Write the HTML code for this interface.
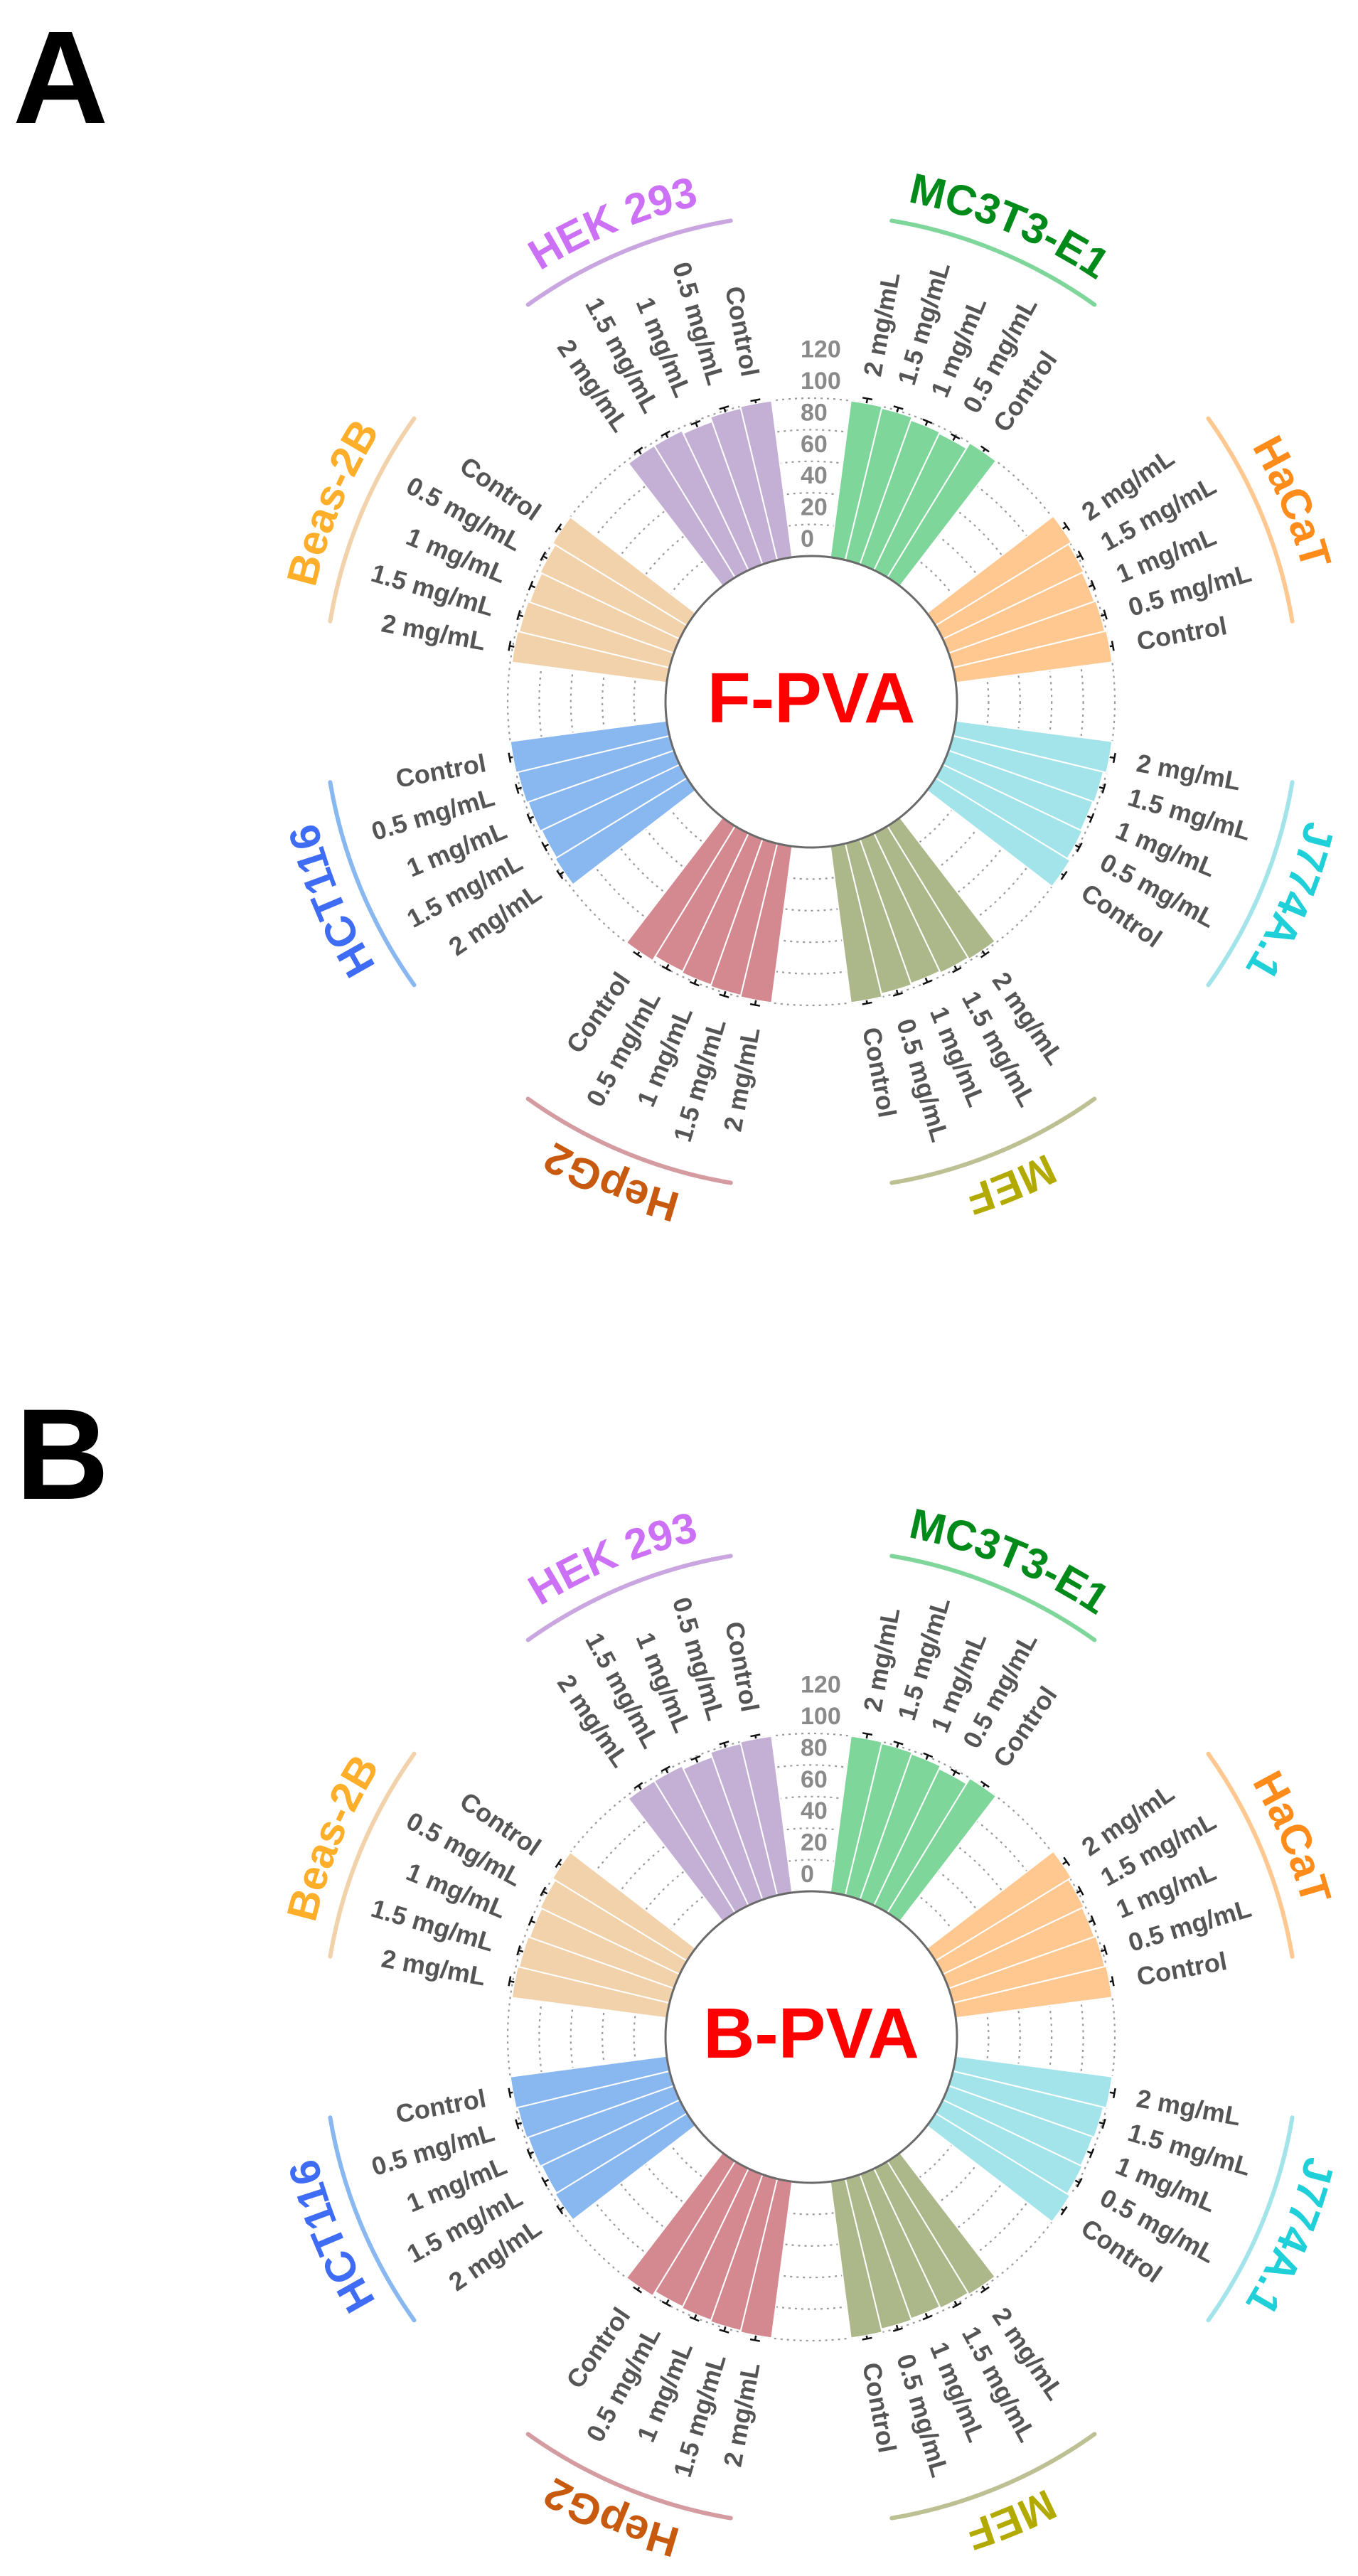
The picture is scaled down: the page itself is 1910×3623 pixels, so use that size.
<!DOCTYPE html>
<html><head><meta charset="utf-8">
<style>
html,body{margin:0;padding:0;background:#fff;}
svg{display:block;font-family:"Liberation Sans",Arial,sans-serif;}
</style></head>
<body>
<svg id="fig" width="1910" height="3623" viewBox="0 0 1910 3623" xmlns="http://www.w3.org/2000/svg">
<text x="18" y="173" font-size="186" font-weight="bold" fill="#000">A</text>
<text x="22" y="2108" font-size="182" font-weight="bold" fill="#000">B</text>
</svg>
<script>
const groups = ["MC3T3-E1","HaCaT","J774A.1","MEF","HepG2","HCT116","Beas-2B","HEK 293"];
const doses = ["2 mg/mL","1.5 mg/mL","1 mg/mL","0.5 mg/mL","Control"];
const ticks = [0,20,40,60,80,100,120];
const gridVals = [20,40,60,80,100];
const valuesA = [
  [100,99,97,96,100],
  [101,99,98,99,100],
  [100,98,97,98,100],
  [99,98,97,98,100],
  [100,99,98,97,100],
  [98,97,98,99,100],
  [99,98,97,98,100],
  [98,98,96,99,100]
];
const errorsA = [
  [3,3,3,3,2],[3,3,3,3,2],[3,3,3,3,2],[3,3,3,3,2],
  [3,3,3,3,2],[3,3,3,3,2],[3,3,3,3,2],[3,3,3,3,2]
];
const valuesB = [
  [100,99,98,96,100],
  [101,99,98,99,100],
  [100,98,97,98,100],
  [99,98,97,98,100],
  [100,99,98,97,100],
  [98,97,98,99,100],
  [99,98,97,98,100],
  [98,98,96,99,100]
];
const errorsB = [
  [3,3,3,3,2],[3,3,3,3,2],[3,3,3,3,2],[3,3,3,3,2],
  [3,3,3,3,2],[3,3,3,3,2],[3,3,3,3,2],[3,3,3,3,2]
];
const barColors = ["#7fd69a","#ffc891","#a3e4ea","#adb88a","#d4888f","#89b8f0","#f2d2aa","#c5b0d5"];
const arcColors = ["#7fd69a","#ffc891","#a3e4ea","#bcc092","#d49ba0","#89b8f0","#f2d2aa","#c9a6e0"];
const textColors = ["#008a1a","#ff8c1a","#1fd0d8","#b3aa00","#c85a10","#3f6cf5","#ffae2a","#cc70f5"];

const NS = "http://www.w3.org/2000/svg";
const svg = document.getElementById("fig");
const R0 = 205, K = 2.22;
function rad(v){ return R0 + v*K; }
function pt(cx,cy,r,deg){ const a=deg*Math.PI/180; return [cx + r*Math.sin(a), cy - r*Math.cos(a)]; }
function mk(tag, attrs, parent){ const e=document.createElementNS(NS,tag); for(const k in attrs) e.setAttribute(k,attrs[k]); (parent||svg).appendChild(e); return e; }

function panel(cx, cy, title, values, errors, id){
  const g = mk("g",{});
  
  
  // grid circles
  gridVals.forEach(v=>{
    const c = mk("circle",{cx:cx,cy:cy,r:rad(v),fill:"none",stroke:"#9a9a9a","stroke-width":2.2,"stroke-dasharray":"3 6"},g);
    
    
  });
  // bars
  groups.forEach((gn,gi)=>{
    doses.forEach((d,bi)=>{
      const a0 = gi*45 + 7.5 + bi*6, a1 = a0 + 6, am = a0+3;
      const v = values[gi][bi], r1 = rad(v);
      const p0=pt(cx,cy,R0,a0), p1=pt(cx,cy,r1,a0), p2=pt(cx,cy,r1,a1), p3=pt(cx,cy,R0,a1);
      const p = mk("path",{d:`M${p0} L${p1} A${r1} ${r1} 0 0 1 ${p2} L${p3} A${R0} ${R0} 0 0 0 ${p0}Z`,fill:barColors[gi],stroke:"#fff","stroke-width":2},g);
      
      
      // error bar
      const e = errors[gi][bi], re = rad(v+e);
      const s0 = pt(cx,cy,r1,am), s1 = pt(cx,cy,re,am);
      const t = (am)*Math.PI/180, dx=Math.cos(t)*7, dy=Math.sin(t)*7;
      const eb = mk("path",{d:`M${s0} L${s1} M${s1[0]-dx},${s1[1]-dy} L${s1[0]+dx},${s1[1]+dy}`,stroke:"#111","stroke-width":2.5,fill:"none"},g);
      
      
      // label
      const lp = pt(cx,cy,466,am);
      const right = am < 180;
      const rot = right ? am-90 : am+90;
      const tx = mk("text",{x:lp[0],y:lp[1],dy:"0.36em","font-size":36,"font-weight":"bold",fill:"#555","text-anchor":right?"start":"end",transform:`rotate(${rot} ${lp[0]} ${lp[1]})`},g);
      tx.textContent = d;
      
      
    });
    // group arc
    const ac = gi*45+22.5, RA=686;
    const q0=pt(cx,cy,RA,ac-13), q1=pt(cx,cy,RA,ac+13);
    const arc = mk("path",{d:`M${q0} A${RA} ${RA} 0 0 1 ${q1}`,fill:"none",stroke:arcColors[gi],"stroke-width":6,"stroke-linecap":"round"},g);
    
    
  });
  // group text on path
  const RT = 716, pid = id+"-tp";
  mk("path",{id:pid,d:`M${cx},${cy-RT} A${RT} ${RT} 0 1 1 ${cx},${cy+RT} A${RT} ${RT} 0 1 1 ${cx},${cy-RT}`,fill:"none"},g);
  const L = 2*Math.PI*RT;
  groups.forEach((gn,gi)=>{
    const t = mk("text",{"font-size":60,"font-weight":"bold",fill:textColors[gi],"text-anchor":"middle"},g);
    
    
    const tp = mk("textPath",{href:"#"+pid,startOffset:((gi*45+22.5)/360*L).toFixed(1)},t);
    tp.textContent = gn;
  });
  // ticks
  ticks.forEach(v=>{
    const t = mk("text",{x:cx-15,y:cy-rad(v)-25+12,"font-size":34,"font-weight":"bold",fill:"#8a8a8a"},g);
    t.textContent = v;
    
    
  });
  // inner circle
  const ic = mk("circle",{cx:cx,cy:cy,r:R0,fill:"#fff",stroke:"#6a6a6a","stroke-width":3},g);
  
  
  const ct = mk("text",{x:cx,y:cy+29,"font-size":100,"font-weight":"bold",fill:"#ff0000","text-anchor":"middle"},g);
  ct.textContent = title;
  
  
}
panel(1141, 987, "F-PVA", valuesA, errorsA, "panel-a");
panel(1141, 2865, "B-PVA", valuesB, errorsB, "panel-b");
</script>
</body></html>
